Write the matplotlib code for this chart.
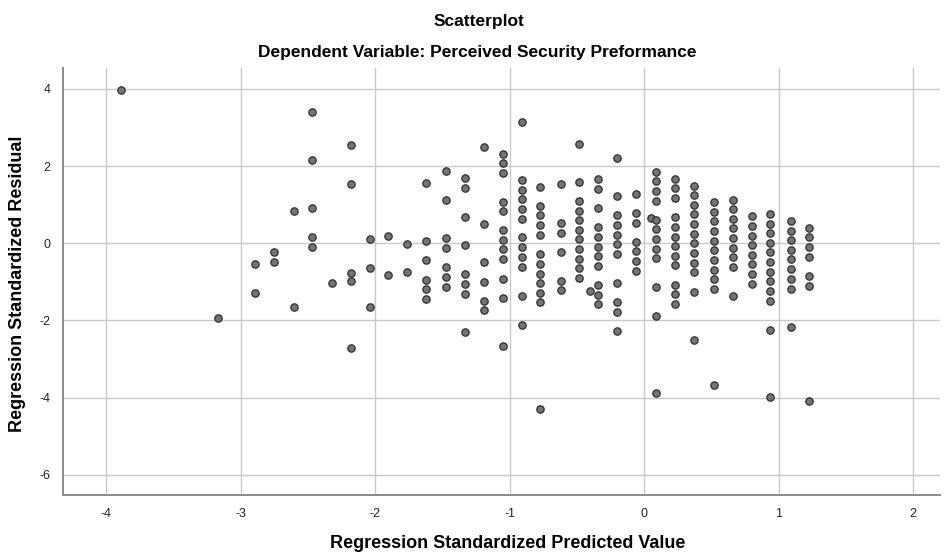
import matplotlib
matplotlib.use("Agg")
import matplotlib.pyplot as plt

# Column positions (predicted values) and residuals
x_vals = (
    [-3.89]
    + [-3.17]
    + [-2.89] * 2
    + [-2.75] * 2
    + [-2.60] * 2
    + [-2.47] * 5
    + [-2.32]
    + [-2.18] * 5
    + [-2.04] * 3
    + [-1.90] * 2
    + [-1.76] * 2
    + [-1.62] * 6
    + [-1.47] * 7
    + [-1.33] * 8
    + [-1.19] * 6
    + [-1.05] * 12
    + [-0.91] * 12
    + [-0.77] * 12
    + [-0.62] * 6
    + [-0.40]
    + [-0.48] * 11
    + [-0.34] * 11
    + [-0.20] * 11
    + [-0.06] * 7
    + [0.05]
    + [0.09] * 12
    + [0.23] * 12
    + [0.37] * 12
    + [0.52] * 11
    + [0.66] * 9
    + [0.80] * 8
    + [0.94] * 12
    + [1.09] * 9
    + [1.23] * 7
)

y_vals = (
    [3.98]
    + [-1.93]
    + [-0.54, -1.29]
    + [-0.23, -0.48]
    + [0.84, -1.65]
    + [3.41, 2.16, 0.91, 0.16, -0.10]
    + [-1.03]
    + [2.54, 1.53, -0.78, -0.97, -2.70]
    + [0.11, -0.64, -1.64]
    + [0.18, -0.82]
    + [-0.01, -0.75]
    + [1.56, 0.06, -0.44, -0.94, -1.19, -1.44]
    + [1.87, 1.12, 0.13, -0.12, -0.62, -0.87, -1.12]
    + [1.69, 1.44, 0.69, -0.05, -0.80, -1.05, -1.31, -2.30]
    + [2.50, 0.51, -0.49, -0.99, -1.49, -1.74]
    + [2.32, 2.07, 1.82, 1.08, 0.83, 0.34, 0.09, -0.16, -0.41, -0.92, -1.42, -2.66]
    + [3.13, 1.64, 1.39, 1.14, 0.89, 0.64, 0.15, -0.10, -0.35, -0.61, -1.36, -2.11]
    + [1.47, 0.97, 0.72, 0.47, 0.22, -0.28, -0.54, -0.79, -1.04, -1.29, -1.53, -4.28]
    + [1.53, 0.53, 0.27, -0.22, -0.97, -1.22]
    + [-1.24]
    + [2.58, 1.60, 1.10, 0.84, 0.60, 0.34, 0.10, -0.15, -0.40, -0.65, -0.90]
    + [1.66, 1.41, 0.91, 0.41, 0.16, -0.09, -0.34, -0.59, -1.08, -1.33, -1.58]
    + [2.22, 1.23, 0.73, 0.47, 0.22, -0.03, -0.28, -1.02, -1.52, -1.77, -2.26]
    + [1.28, 0.78, 0.53, 0.04, -0.21, -0.46, -0.71]
    + [0.66]
    + [1.85, 1.61, 1.35, 1.10, 0.61, 0.36, 0.11, -0.14, -0.39, -1.14, -1.88, -3.88]
    + [1.67, 1.42, 1.17, 0.67, 0.42, 0.17, -0.07, -0.32, -0.57, -1.07, -1.32, -1.56]
    + [1.49, 1.24, 0.99, 0.75, 0.50, 0.25, 0.00, -0.25, -0.50, -0.75, -1.25, -2.50]
    + [1.07, 0.81, 0.57, 0.32, 0.07, -0.18, -0.43, -0.68, -0.93, -1.18, -3.68]
    + [1.13, 0.88, 0.63, 0.39, 0.14, -0.11, -0.36, -0.61, -1.37]
    + [0.70, 0.45, 0.20, -0.05, -0.30, -0.54, -0.80, -1.05]
    + [0.76, 0.51, 0.26, 0.02, -0.23, -0.48, -0.74, -0.98, -1.24, -1.49, -2.24, -3.97]
    + [0.59, 0.33, 0.09, -0.17, -0.42, -0.67, -0.92, -1.18, -2.17]
    + [0.40, 0.15, -0.10, -0.35, -0.85, -1.10, -4.09]
)

x_ticks = [-4, -3, -2, -1, 0, 1, 2]
y_ticks = [-6, -4, -2, 0, 2, 4]

title = "Scatterplot"
subtitle = "Dependent Variable: Perceived Security Preformance"
x_label = "Regression Standardized Predicted Value"
y_label = "Regression Standardized Residual"

regular = ["Liberation Sans", "DejaVu Sans"]

fig = plt.figure(figsize=(9.46, 5.56), dpi=100)
ax = fig.add_axes([0.0666, 0.1097, 0.927, 0.768])

ax.scatter(x_vals, y_vals, s=28, facecolor="#747474", edgecolor="#2f2f2f",
           linewidth=0.9, zorder=3)

ax.set_xlim(-4.32, 2.20)
ax.set_ylim(-6.52, 4.54)
ax.set_xticks(x_ticks)
ax.set_yticks(y_ticks)
ax.set_xticklabels([str(t) for t in x_ticks], family=regular, fontsize=9)
ax.set_yticklabels([str(t) for t in y_ticks], family=regular, fontsize=9)
ax.tick_params(axis="both", length=0, pad=9, colors="#222222")

ax.grid(True, color="#c9c9c9", linewidth=1.0, zorder=0)
ax.set_axisbelow(True)
for side in ["top", "right"]:
    ax.spines[side].set_visible(False)
for side in ["left", "bottom"]:
    ax.spines[side].set_color("#8a8a8a")
    ax.spines[side].set_linewidth(1.4)

fig.text(0.506, 0.962, title, ha="center", va="center", family=regular,
         fontsize=12.5, fontweight="bold")
fig.text(0.505, 0.906, subtitle, ha="center", va="center", family=regular,
         fontsize=12.5, fontweight="bold")
fig.text(0.537, 0.022, x_label, ha="center", va="center", family=regular,
         fontsize=13, fontweight="bold")
fig.text(0.019, 0.49, y_label, ha="center", va="center", rotation=90,
         family=regular, fontsize=13, fontweight="bold")

fig.savefig("out.png", dpi=100)
